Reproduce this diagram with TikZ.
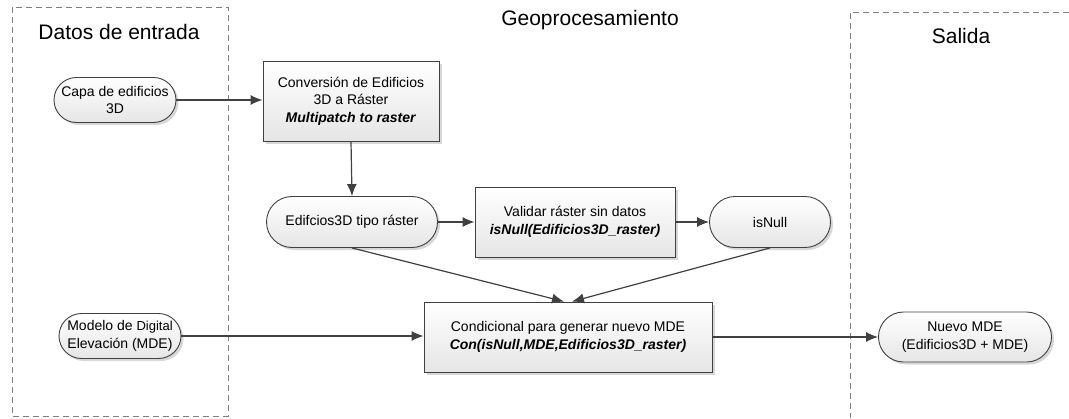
\documentclass[tikz,border=0pt]{standalone}
\usepackage{fontspec}
\setmainfont{Liberation Sans}
\usetikzlibrary{shadows,arrows.meta,shapes.misc}
\definecolor{linec}{HTML}{404040}
\definecolor{dashc}{HTML}{808080}
\tikzset{
  base/.style={draw=linec, line width=0.9pt, align=center, inner sep=2pt,
    top color=white, bottom color=black!10, text=black,
    font=\fontsize{14}{17.5}\selectfont,
    drop shadow={shadow xshift=2.5pt, shadow yshift=-2.5pt, fill=black!35, opacity=0.45}},
  procbox/.style={base, rectangle},
  stadium/.style={base, rounded rectangle},
  conn/.style={draw=linec, line width=1.2pt, -{Latex[length=12pt,width=10pt]}},
  zone/.style={draw=dashc, line width=0.9pt, dash pattern=on 6pt off 4pt},
  ttl/.style={font=\fontsize{21}{25}\selectfont, text=black}
}
\begin{document}
\begin{tikzpicture}[x=1pt,y=-1pt]
\useasboundingbox (0,0) rectangle (1069,418);
% zones
\draw[zone] (12,7) rectangle (228,416);
\draw[zone] (1069,12) -- (850,12) -- (850,418);
\node[ttl] (t1) at (119,32) {Datos de entrada};
\node[ttl] (t2) at (590,20) {Geoprocesamiento};
\node[ttl] (t3) at (961,36) {Salida};
% nodes
\node[stadium, minimum width=126pt, minimum height=45pt] (capa) at (115,100) {Capa de edificios\\3D};
\node[procbox, minimum width=176pt, minimum height=80pt] (conv) at (351,101) {Conversión de Edificios\\3D a Ráster\\\textbf{\textit{Multipatch to raster}}};
\node[stadium, minimum width=175pt, minimum height=51pt] (edif) at (352,222) {Edifcios3D tipo ráster};
\node[procbox, minimum width=200pt, minimum height=70pt] (valid) at (575,222) {Validar ráster sin datos\\\textbf{\textit{isNull(Edificios3D\_raster)}}};
\node[stadium, minimum width=125pt, minimum height=51pt] (isnull) at (770,222) {isNull};
\node[procbox, minimum width=288pt, minimum height=70pt] (cond) at (568,337) {Condicional para generar nuevo MDE\\\textbf{\textit{Con(isNull,MDE,Edificios3D\_raster)}}};
\node[stadium, minimum width=126pt, minimum height=45pt] (modelo) at (120,336) {Modelo de {\fontsize{13}{17.5}\selectfont Digital}\\Elevación (MDE)};
\node[stadium, minimum width=177pt, minimum height=50pt] (nuevo) at (965,337) {Nuevo MDE\\(Edificios3D + MDE)};
% connectors
\draw[conn] (capa.east) -- (capa.east -| conv.west);
\draw[conn] (conv.south) -- (edif.north);
\draw[conn] (edif.east) -- (edif.east -| valid.west);
\draw[conn] (valid.east) -- (valid.east -| isnull.west);
\draw[conn] (edif.south) -- ([xshift=-4pt]cond.north);
\draw[conn] (isnull.south) -- ([xshift=4pt]cond.north);
\draw[conn] (modelo.east) -- (modelo.east -| cond.west);
\draw[conn] (cond.east) -- (cond.east -| nuevo.west);
\end{tikzpicture}
\end{document}
